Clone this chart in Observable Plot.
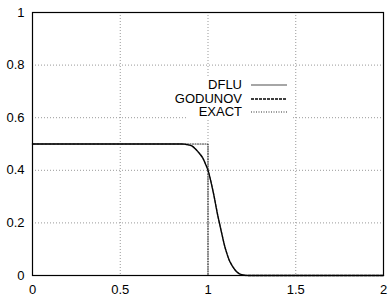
<!DOCTYPE html>
<html>
<head>
<meta charset="utf-8">
<script src="https://cdn.jsdelivr.net/npm/d3@7"></script>
<script src="https://cdn.jsdelivr.net/npm/@observablehq/plot@0.6"></script>
<style>
  html, body { margin: 0; padding: 0; background: #fff; }
  #wrap { position: relative; width: 392px; height: 299px; font-family: "Liberation Sans", Arial, sans-serif; }
  #legend { position: absolute; left: 187px; top: 76px; width: 106px; height: 43px; background: #fff; }
  .row { position: absolute; left: 0; height: 14px; width: 106px; font-size: 13px; line-height: 14px; }
  .row span { position: absolute; right: 51px; top: 0; white-space: nowrap; color: #000; }
  .row svg { position: absolute; left: 64px; top: 0; }
</style>
</head>
<body>
<div id="wrap"></div>
<script>
const xTicks = [0, 0.5, 1, 1.5, 2];
const yTicks = [0, 0.2, 0.4, 0.6, 0.8, 1];
const xGrid = [0.5, 1, 1.5];
const yGrid = [0.2, 0.4, 0.6, 0.8];

const curveX = [0, 0.85, 0.88, 0.91, 0.93, 0.95, 0.97, 0.985, 1.0, 1.012, 1.024, 1.035, 1.045, 1.055, 1.065, 1.075, 1.085, 1.095, 1.107, 1.12, 1.135, 1.15, 1.165, 1.18, 1.2, 1.23, 2];
const dfluY    = [0.5, 0.5, 0.498, 0.492, 0.48, 0.465, 0.447, 0.425, 0.40, 0.37, 0.335, 0.30, 0.265, 0.23, 0.20, 0.17, 0.14, 0.112, 0.085, 0.06, 0.04, 0.025, 0.013, 0.006, 0.002, 0, 0];
const godunovY = [0.5, 0.5, 0.498, 0.492, 0.48, 0.465, 0.447, 0.425, 0.40, 0.37, 0.335, 0.30, 0.265, 0.23, 0.20, 0.17, 0.14, 0.112, 0.085, 0.06, 0.04, 0.025, 0.013, 0.006, 0.002, 0, 0];
const exactX = [0, 1.0, 1.0, 2];
const exactY = [0.5, 0.5, 0, 0];

const seriesNames = ["DFLU", "GODUNOV", "EXACT"];

const dflu = curveX.map((x, i) => ({x, y: dfluY[i]}));
const godunov = curveX.map((x, i) => ({x, y: godunovY[i]}));
const exact = exactX.map((x, i) => ({x, y: exactY[i]}));

const chart = Plot.plot({
  width: 392,
  height: 299,
  marginLeft: 32,
  marginRight: 9,
  marginTop: 12,
  marginBottom: 24,
  style: { fontFamily: "'Liberation Sans', Arial, sans-serif", fontSize: "13px", color: "#000", background: "#fff" },
  x: { domain: [0, 2], ticks: xTicks, tickFormat: d => String(d), tickSize: 0, tickPadding: 9, label: null },
  y: { domain: [0, 1], ticks: yTicks, tickFormat: d => String(d), tickSize: 0, tickPadding: 8, label: null },
  marks: [
    Plot.ruleX(xGrid, { stroke: "#999", strokeDasharray: "1,2", strokeWidth: 1 }),
    Plot.ruleY(yGrid, { stroke: "#999", strokeDasharray: "1,2", strokeWidth: 1 }),
    Plot.line(exact, { x: "x", y: "y", stroke: "#333", strokeWidth: 1.2, strokeDasharray: "1,1.5" }),
    Plot.line(dflu, { x: "x", y: "y", stroke: "#888", strokeWidth: 1.5, curve: "monotone-x" }),
    Plot.line(godunov, { x: "x", y: "y", stroke: "#000", strokeWidth: 1.3, strokeDasharray: "3,1", curve: "monotone-x" }),
    Plot.frame({ stroke: "#000", strokeWidth: 1.2 })
  ]
});

const wrap = document.getElementById("wrap");
wrap.appendChild(chart);

const legend = document.createElement("div");
legend.id = "legend";
const styles = [
  { stroke: "#888", width: 1.5, dash: null },
  { stroke: "#000", width: 1.3, dash: "3,1" },
  { stroke: "#333", width: 1.2, dash: "1,1.5" }
];
seriesNames.forEach((name, i) => {
  const row = document.createElement("div");
  row.className = "row";
  row.style.top = (2 + i * 13.7) + "px";
  const s = styles[i];
  row.innerHTML = `<span>${name}</span><svg width="37" height="14"><line x1="0" x2="36" y1="7" y2="7" stroke="${s.stroke}" stroke-width="${s.width}" ${s.dash ? `stroke-dasharray="${s.dash}"` : ""}/></svg>`;
  legend.appendChild(row);
});
wrap.appendChild(legend);
</script>
</body>
</html>
